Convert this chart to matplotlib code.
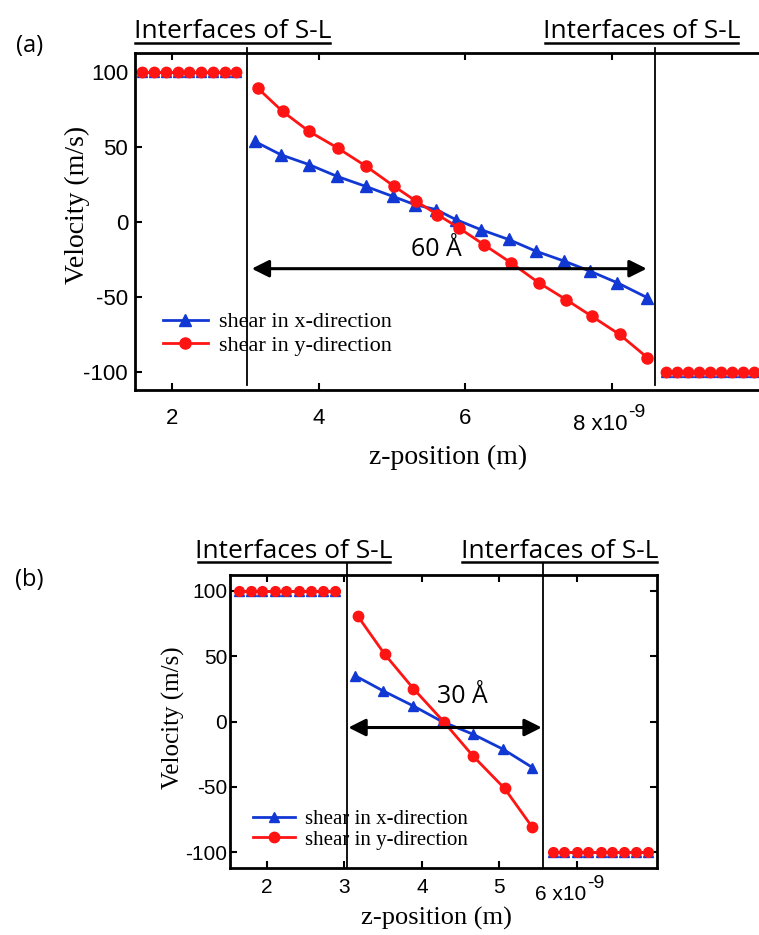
import matplotlib
matplotlib.use("Agg")
import matplotlib.pyplot as plt
from matplotlib.lines import Line2D

plt.rcParams['axes.unicode_minus'] = False

# ---- data, panel (a), z in units of 1e-9 m ----
a_left_z = [1.60, 1.76, 1.92, 2.08, 2.24, 2.40, 2.56, 2.72, 2.87]
a_left_v = [100, 100, 100, 100, 100, 100, 100, 100, 100]
a_x_z = [3.13, 3.49, 3.87, 4.25, 4.64, 5.01, 5.31, 5.60, 5.87, 6.21, 6.59, 6.96, 7.35, 7.70, 8.07, 8.48]
a_x_v = [54, 45, 38.5, 30.7, 24, 17.3, 11.8, 8.5, 1.8, -4.9, -11.5, -19.3, -26, -32.7, -40.4, -50.4]
a_y_z = [3.17, 3.51, 3.87, 4.26, 4.65, 5.03, 5.33, 5.62, 5.91, 6.25, 6.62, 7.00, 7.37, 7.72, 8.10, 8.48]
a_y_v = [89.6, 74, 60.7, 49.6, 37.3, 24, 14, 5.1, -3.7, -14.9, -27, -40.4, -51.6, -62.7, -74.9, -90.4]
a_right_z = [8.73, 8.88, 9.03, 9.18, 9.33, 9.48, 9.63, 9.78, 9.93]
a_right_v = [-100, -100, -100, -100, -100, -100, -100, -100, -100]
a_interfaces = [3.03, 8.59]
a_xticks = [2, 4, 6, 8]
a_xticklabels = ['2', '4', '6', '']

# ---- data, panel (b) ----
b_left_z = [1.63, 1.79, 1.94, 2.10, 2.25, 2.41, 2.57, 2.72, 2.88]
b_left_v = [100, 100, 100, 100, 100, 100, 100, 100, 100]
b_x_z = [3.14, 3.50, 3.89, 4.26, 4.66, 5.05, 5.43]
b_x_v = [34.9, 23.4, 11.9, 0, -9.7, -21.2, -35.2]
b_y_z = [3.17, 3.52, 3.89, 4.28, 4.66, 5.07, 5.43]
b_y_v = [80.7, 51.4, 25.2, 0, -26.3, -51.2, -81]
b_right_z = [5.69, 5.84, 6.00, 6.15, 6.31, 6.46, 6.61, 6.77, 6.92]
b_right_v = [-100, -100, -100, -100, -100, -100, -100, -100, -100]
b_interfaces = [3.03, 5.57]
b_xticks = [2, 3, 4, 5, 6]
b_xticklabels = ['2', '3', '4', '5', '']

yticks = [-100, -50, 0, 50, 100]
yticklabels = ['-100', '-50', '0', '50', '100']

BLUE = '#1238d4'
RED = '#ff1414'
W, H = 759, 935

fig = plt.figure(figsize=(W / 100, H / 100), dpi=100)


def px(x, y):
    return x / W, 1 - y / H


def draw_panel(ax, left, xs, xv, ys, yv, right, ms_big, ms_small, tick_fs, pad_x, pad_y):
    lz, lv = left
    rz, rv = right
    for z, v in [(lz, lv), (rz, rv)]:
        ax.plot(z, v, color=BLUE, marker='^', ms=ms_small, lw=2)
    ax.plot(xs, xv, color=BLUE, marker='^', ms=ms_big, lw=2, label='shear in x-direction')
    for z, v in [(lz, lv), (rz, rv)]:
        ax.plot(z, v, color=RED, marker='o', ms=ms_small, lw=2)
    ax.plot(ys, yv, color=RED, marker='o', ms=ms_big, lw=2, label='shear in y-direction')
    ax.set_yticks(yticks)
    ax.set_yticklabels(yticklabels, fontfamily='Liberation Sans', fontsize=tick_fs)
    ax.tick_params(direction='in', width=1.5, length=5, top=True)
    ax.tick_params(axis='x', pad=pad_x)
    ax.tick_params(axis='y', pad=pad_y)
    for s in ax.spines.values():
        s.set_linewidth(2)


def exp_label(x_left, y_base, base, fs, sup_dy, sup_fs):
    # tick label of the form "8 x10^-9" with a large superscript
    t = fig.text(*px(x_left, y_base), base, ha='left', va='baseline',
                 fontfamily='Liberation Sans', fontsize=fs)
    fig.canvas.draw()
    bb = t.get_window_extent()
    fig.text(bb.x1 / W + 1 / W, 1 - (y_base - sup_dy) / H, '-9', ha='left', va='baseline',
             fontfamily='Liberation Sans', fontsize=sup_fs)


# ---------------- panel (a) ----------------
ax1 = fig.add_axes([135 / W, 545 / H, 624 / W, 337 / H])
draw_panel(ax1, (a_left_z, a_left_v), a_x_z, a_x_v, a_y_z, a_y_v,
           (a_right_z, a_right_v), 8, 7.5, 16, 13, 5)
ax1.set_xlim(1.5, 10.0)
ax1.set_ylim(-112, 113)
ax1.spines['right'].set_visible(False)
ax1.set_xticks(a_xticks)
ax1.set_xticklabels(a_xticklabels, fontfamily='Liberation Sans', fontsize=16)
for x in a_interfaces:
    ax1.axvline(x, ymin=0.015, ymax=1.015, color='k', lw=1.3, clip_on=False)
ax1.annotate('', xy=(8.47, -31), xytext=(3.09, -31),
             arrowprops=dict(arrowstyle='<|-|>', color='k', lw=2.2, mutation_scale=26,
                             shrinkA=0, shrinkB=0))
ax1.text(5.61, -18, '60 Å', fontfamily='Open Sans', fontsize=18, ha='center', va='center')
ax1.legend(loc='upper left', bbox_to_anchor=(0.045, 0.232), frameon=False,
           borderpad=0, borderaxespad=0, handlelength=2.0, handletextpad=0.5,
           labelspacing=0.15, prop={'family': 'Liberation Serif', 'size': 16})

# ---------------- panel (b) ----------------
ax2 = fig.add_axes([230 / W, 67 / H, 427 / W, 293 / H])
draw_panel(ax2, (b_left_z, b_left_v), b_x_z, b_x_v, b_y_z, b_y_v,
           (b_right_z, b_right_v), 7.5, 7, 15, 7, 2)
ax2.set_xlim(1.52, 7.04)
ax2.set_ylim(-112, 112)
ax2.tick_params(right=True)
ax2.set_xticks(b_xticks)
ax2.set_xticklabels(b_xticklabels, fontfamily='Liberation Sans', fontsize=15)
for x in b_interfaces:
    ax2.axvline(x, ymin=0, ymax=1.041, color='k', lw=1.3, clip_on=False)
ax2.annotate('', xy=(5.55, -4.6), xytext=(3.05, -4.6),
             arrowprops=dict(arrowstyle='<|-|>', color='k', lw=2.2, mutation_scale=26,
                             shrinkA=0, shrinkB=0))
ax2.text(4.52, 19.3, '30 Å', fontfamily='Open Sans', fontsize=18, ha='center', va='center')
ax2.legend(loc='upper left', bbox_to_anchor=(0.054, 0.2), frameon=False,
           borderpad=0, borderaxespad=0, handlelength=2.0, handletextpad=0.5,
           labelspacing=0.05, prop={'family': 'Liberation Serif', 'size': 15})

# ---------------- labels and annotations ----------------
fig.text(*px(77, 205), 'Velocity (m/s)', rotation=90, ha='center', va='center',
         fontfamily='Liberation Serif', fontsize=20)
fig.text(*px(448, 457), 'z-position (m)', ha='center', va='center',
         fontfamily='Liberation Serif', fontsize=20)
fig.text(*px(173, 718), 'Velocity (m/s)', rotation=90, ha='center', va='center',
         fontfamily='Liberation Serif', fontsize=18)
fig.text(*px(436, 918), 'z-position (m)', ha='center', va='center',
         fontfamily='Liberation Serif', fontsize=19)

exp_label(573, 430, '8 x10', 16, 13, 14)
exp_label(535, 900, '6 x10', 15, 12, 14)

fig.text(*px(30, 46), '(a)', ha='center', va='center', fontfamily='Open Sans', fontsize=17)
fig.text(*px(29, 580), '(b)', ha='center', va='center', fontfamily='Open Sans', fontsize=17)

# "Interfaces of S-L" labels with underlines: (x_left, x_right, baseline, underline_y)
labels_pos = [(135, 330, 38.5, 42.5), (545, 738, 38.5, 42.5),
              (198, 390, 557.5, 562), (462, 657, 557.5, 562)]
for x0, x1, yb, yu in labels_pos:
    fig.text(*px((x0 + x1) / 2, yb), 'Interfaces of S-L', ha='center', va='baseline',
             fontfamily='Open Sans', fontsize=19)
    fig.add_artist(Line2D([x0 / W, x1 / W], [1 - yu / H, 1 - yu / H],
                          transform=fig.transFigure, color='k', lw=1.8))

fig.savefig('out.png', dpi=100)
